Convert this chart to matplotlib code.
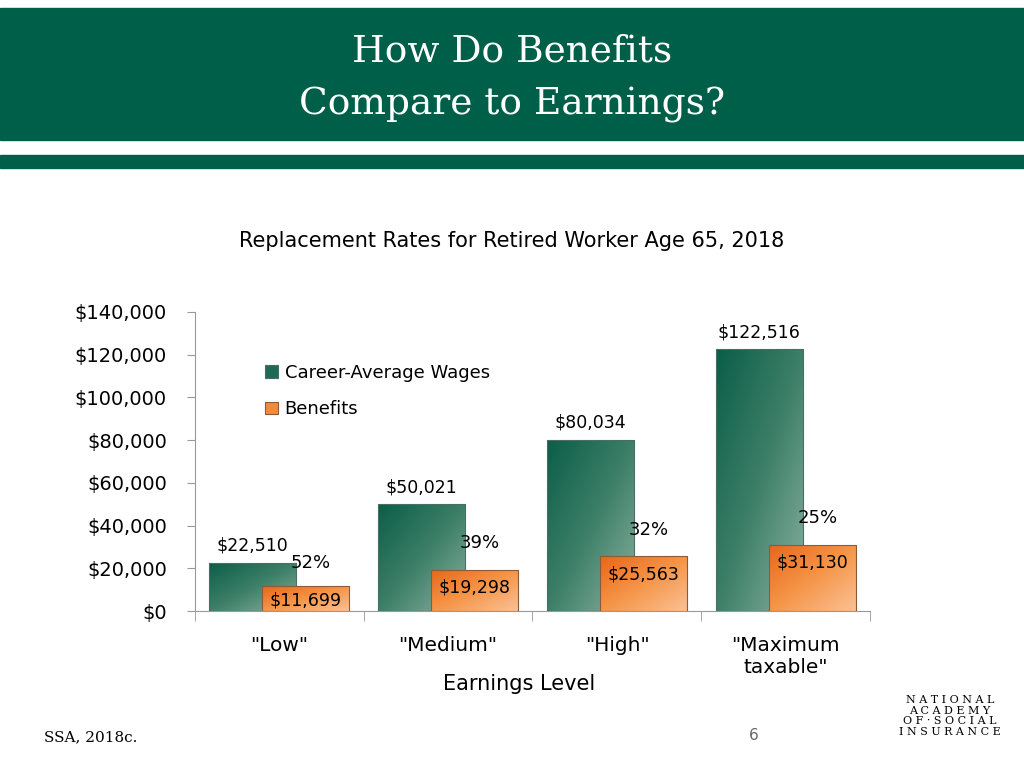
import matplotlib
matplotlib.use("Agg")
import matplotlib.pyplot as plt
import numpy as np
from matplotlib.colors import LinearSegmentedColormap

categories = ['"Low"', '"Medium"', '"High"', '"Maximum\ntaxable"']
wages = [22510, 50021, 80034, 122516]
benefits = [11699, 19298, 25563, 31130]
rates = ["52%", "39%", "32%", "25%"]
yticks = [0, 20000, 40000, 60000, 80000, 100000, 120000, 140000]

fig = plt.figure(figsize=(10.24, 7.68), dpi=100)
fig.patch.set_facecolor("white")
fig.patches.append(plt.Rectangle((0, 1-140/768), 1, 132/768, transform=fig.transFigure, color="#005f48", zorder=0))
fig.patches.append(plt.Rectangle((0, 1-168/768), 1, 13/768, transform=fig.transFigure, color="#005f48", zorder=0))
fig.text(0.5, 1-52/768, "How Do Benefits", ha="center", va="center", fontsize=27, color="white", family="DejaVu Serif")
fig.text(0.5, 1-105/768, "Compare to Earnings?", ha="center", va="center", fontsize=27, color="white", family="DejaVu Serif")
fig.text(0.5, 1-241/768, "Replacement Rates for Retired Worker Age 65, 2018", ha="center", va="center", fontsize=15)
fig.text(0.043, 1-737/768, "SSA, 2018c.", fontsize=11, family="DejaVu Serif", va="center")
fig.text(0.731, 1-735/768, "6", fontsize=11, color="#666666", va="center")
fig.text(0.9275, 1-716/768, "N A T I O N A L\nA C A D E M Y\nO F · S O C I A L\nI N S U R A N C E", ha="center", va="center",
         fontsize=8, family="DejaVu Serif", linespacing=1.05)

ax = fig.add_axes([0.190, 1-611/768, 0.660, (611-312)/768])
x = np.arange(len(categories))
w = 0.515
off = 0.157
gcmap = LinearSegmentedColormap.from_list("g", ["#0b5e48", "#3d7f68", "#8cb3a2"])
ocmap = LinearSegmentedColormap.from_list("o", ["#e8661a", "#f59548", "#fbc195"])
grad = np.linspace(0, 1, 100).reshape(1, -1) + np.linspace(0, 1, 100).reshape(-1, 1)
gb = ax.bar(x - off, wages, w, color="#2e7560", edgecolor="#4a6f62", linewidth=0.8, label="Career-Average Wages", zorder=2)
ob = ax.bar(x + off, benefits, w, color="#f28a3c", edgecolor="#8a5a3a", linewidth=0.8, label="Benefits", zorder=3)
for bars, cm, z in ((gb, gcmap, 2.5), (ob, ocmap, 3.5)):
    for b in bars:
        x0, y0 = b.get_x(), b.get_y()
        im = ax.imshow(grad, cmap=cm, extent=[x0, x0 + b.get_width(), y0, y0 + b.get_height()],
                       aspect="auto", origin="upper", zorder=z)
        im.set_clip_path(b)
        b.set_facecolor("none")
        b.set_zorder(z + 0.1)
for i in range(len(x)):
    ax.text(x[i] - off, wages[i] + 8000, f"${wages[i]:,}", ha="center", va="center", fontsize=12.5, zorder=5)
    ax.text(x[i] + off, max(benefits[i] - 8500, 5100), f"${benefits[i]:,}",
            ha="center", va="center", fontsize=12.5, zorder=5)
    ax.text(x[i] + off + 0.03, benefits[i] + (10800 if i == 0 else 12500),
            rates[i], ha="center", va="center", fontsize=13, zorder=5)
ax.set_xlim(-0.5, 3.5)
ax.set_ylim(0, 140000)
ax.set_yticks(yticks)
ax.set_yticklabels([f"${v:,}" for v in yticks], fontsize=14)
ax.set_xticks(x)
ax.set_xticklabels(categories, fontsize=14.5, va="top")
ax.set_xticks(np.arange(-0.5, 4, 1), minor=True)
ax.tick_params(axis="x", which="major", length=0, pad=18)
ax.tick_params(axis="x", which="minor", length=7, color="#999999")
ax.tick_params(axis="y", length=6, color="#999999", pad=14)
for s in ["top", "right"]:
    ax.spines[s].set_visible(False)
ax.spines["left"].set_color("#999999")
ax.spines["bottom"].set_color("#999999")
ax.set_xlabel("Earnings Level", fontsize=15)
ax.xaxis.set_label_coords(0.48, -0.21)
leg = ax.legend(loc="upper left", bbox_to_anchor=(0.08, 0.88), frameon=False, fontsize=13,
                handlelength=0.7, handleheight=0.7, handletextpad=0.4, labelspacing=1.0)
leg.legend_handles[0].set_facecolor("#1f6a55")
leg.legend_handles[1].set_facecolor("#f28a3c")
fig.savefig("out.png", dpi=100)
